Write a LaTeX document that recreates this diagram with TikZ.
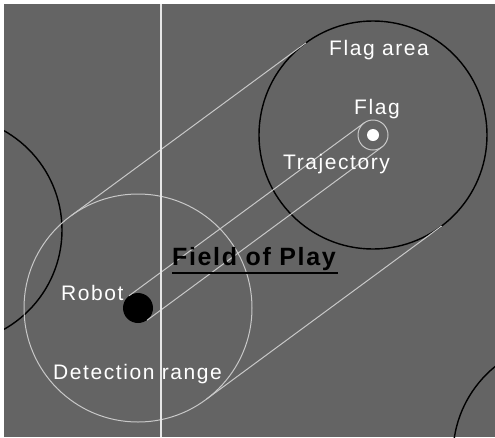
\documentclass[tikz,border=0pt]{standalone}
\usepackage{fontspec}
\setmainfont{Liberation Sans}
\newfontfamily\lab[LetterSpace=7.5]{Liberation Sans}
\newfontfamily\labb[LetterSpace=6.5]{Liberation Sans}
\definecolor{bg}{HTML}{646464}
\definecolor{ln}{HTML}{C8C8C8}
\definecolor{vl}{HTML}{E6E6E6}
\begin{document}
\begin{tikzpicture}[x=1pt,y=-1pt,
  ring/.style={circle,draw,inner sep=0pt,outer sep=0pt},
  bigblack/.style={ring,draw=black,line width=1.4pt,minimum size=228pt},
  biglight/.style={ring,draw=ln,line width=1pt,minimum size=228pt},
  conn/.style={draw=ln,line width=1pt},
  wlabel/.style={text=white,font=\lab\fontsize{21}{24}\selectfont,inner sep=0pt,anchor=base west}]
\useasboundingbox (0,0) rectangle (495,437);
\fill[white] (0,0) rectangle (495,437);
\fill[bg] (4,4) rectangle (495,437);
\begin{scope}
\clip (4,4) rectangle (495,437);
\node[bigblack] (leftarea) at (-52,230) {};
\node[bigblack] (brarea) at (567,455) {};
\node[biglight] (det) at (138,308) {};
\node[bigblack] (area) at (373,135) {};
\node[ring,draw=ln,line width=1pt,minimum size=30pt] (flagring) at (373,135) {};
\node[circle,fill=white,inner sep=0pt,minimum size=12pt] (flag) at (373,135) {};
\node[circle,fill=black,inner sep=0pt,minimum size=30pt] (robot) at (138,308) {};
\draw[conn] (robot.126.4) -- (flagring.126.4);
\draw[conn] (robot.-53.6) -- (flagring.-53.6);
\draw[conn] (det.126.4) -- (area.126.4);
\draw[conn] (det.-53.6) -- (area.-53.6);
\coordinate (vtop) at (161,4);
\coordinate (vbot) at (161,437);
\draw[vl,line width=2pt] (vtop) -- (vbot);
\end{scope}
\node[wlabel] (tarea) at (329,55) {Flag area};
\node[wlabel] (tflag) at (354,114) {Flag};
\node[wlabel] (ttraj) at (283,169) {Trajectory};
\node[wlabel] (trobot) at (61,300) {Robot};
\node[wlabel] (tdet) at (53,379) {Detection range};
\node[text=black,font=\labb\bfseries\fontsize{25}{28}\selectfont,inner sep=0pt,anchor=base west] (field) at (172,265) {Field of Play};
\draw[black,line width=2pt] (172,273) -- (338,273);
\end{tikzpicture}
\end{document}
